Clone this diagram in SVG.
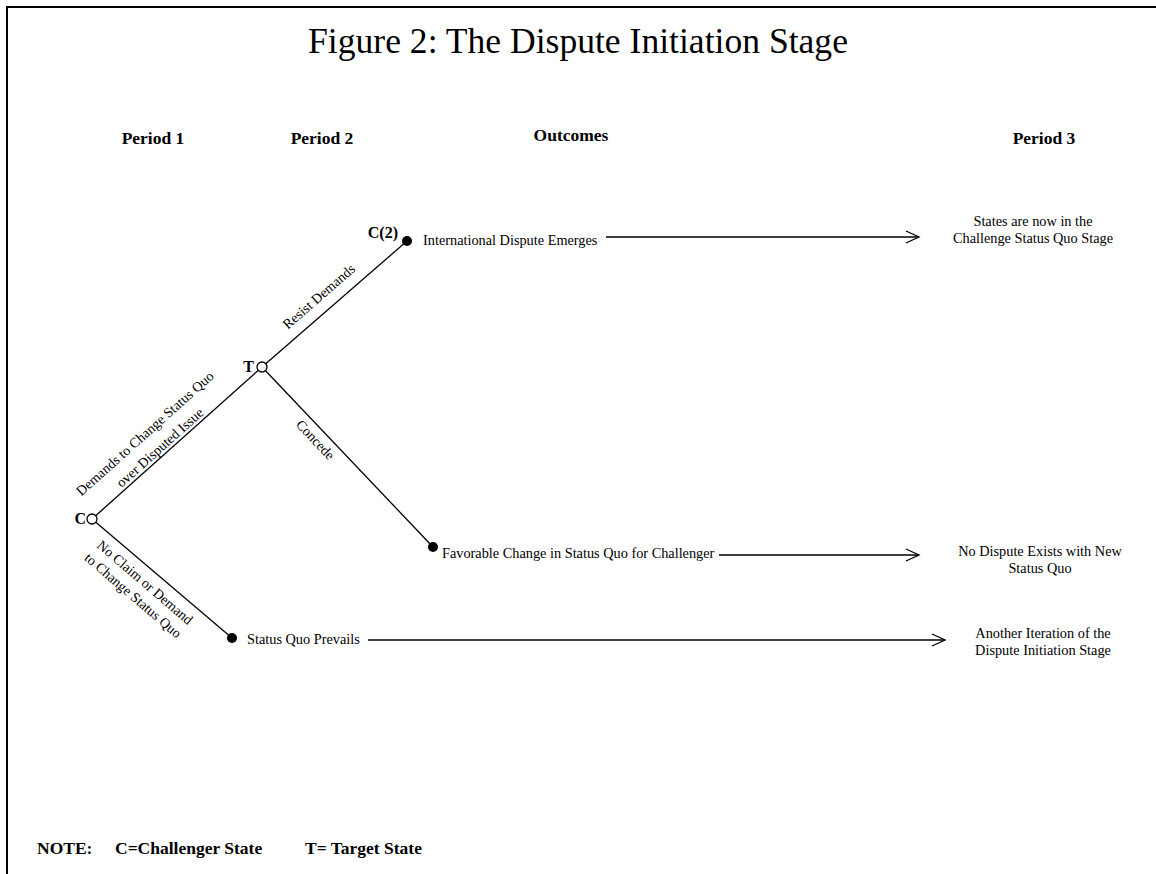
<svg xmlns="http://www.w3.org/2000/svg" width="1156" height="874" viewBox="0 0 1156 874">
<style>
text{font-family:"Liberation Serif","Times New Roman",serif;fill:#000}
.t{font-size:14.3px}
.r{font-size:14px}
.b{font-size:16px;font-weight:bold}
.h{font-size:17.5px;font-weight:bold}
.n{font-size:17.5px;font-weight:bold}
.mid{text-anchor:middle}
.edge{stroke:#000;stroke-width:1.3;fill:none}
.arr{stroke:#000;stroke-width:1.3;fill:none;marker-end:url(#open)}
.open{fill:#fff;stroke:#000;stroke-width:1.3}
.dot{fill:#000}
</style>
<defs>
<marker id="open" markerUnits="userSpaceOnUse" markerWidth="16" markerHeight="14" refX="14" refY="7" orient="auto">
<path d="M1,1 L14,7 L1,13" fill="none" stroke="#000" stroke-width="1.3"/>
</marker>
</defs>
<rect width="1156" height="874" fill="#fff"/>
<path d="M7,874 V7 H1156" fill="none" stroke="#000" stroke-width="2"/>
<text x="578" y="53" class="mid" style="font-size:35.6px">Figure 2: The Dispute Initiation Stage</text>
<text x="153" y="144" class="h mid">Period 1</text>
<text x="322" y="144" class="h mid">Period 2</text>
<text x="571" y="141" class="h mid">Outcomes</text>
<text x="1044" y="144" class="h mid">Period 3</text>
<g id="connectors">
<line class="edge" x1="92" y1="519" x2="262" y2="367"/>
<line class="edge" x1="262" y1="367" x2="407" y2="241"/>
<line class="edge" x1="262" y1="367" x2="433" y2="547"/>
<line class="edge" x1="92" y1="519" x2="232" y2="638"/>
<line class="arr" x1="606" y1="237" x2="919" y2="237"/>
<line class="arr" x1="719" y1="555" x2="919" y2="555"/>
<line class="arr" x1="368" y1="640" x2="945" y2="640"/>
<text class="r mid" transform="translate(148,437) rotate(-41.8)">Demands to Change Status Quo</text>
<text class="r mid" transform="translate(163,451) rotate(-41.8)">over Disputed Issue</text>
<text class="r mid" transform="translate(322,300) rotate(-41)">Resist Demands</text>
<text class="r mid" transform="translate(312,443) rotate(46.5)">Concede</text>
<text class="r mid" transform="translate(142,586) rotate(40.6)">No Claim or Demand</text>
<text class="r mid" transform="translate(130,599) rotate(40.6)">to Change Status Quo</text>
</g>
<g id="node-c">
<circle class="open" cx="92" cy="519" r="5"/>
<text x="86" y="524" class="b" text-anchor="end">C</text>
</g>
<g id="node-t">
<circle class="open" cx="262" cy="367" r="5"/>
<text x="254" y="372" class="b" text-anchor="end">T</text>
</g>
<g id="node-c2">
<circle class="dot" cx="407" cy="241" r="5"/>
<text x="398" y="238" class="b" text-anchor="end">C(2)</text>
<text x="423" y="245" class="t">International Dispute Emerges</text>
</g>
<g id="node-favorable">
<circle class="dot" cx="433" cy="547" r="5"/>
<text x="442" y="558" class="t">Favorable Change in Status Quo for Challenger</text>
</g>
<g id="node-sq">
<circle class="dot" cx="232" cy="638" r="5"/>
<text x="247" y="644" class="t">Status Quo Prevails</text>
</g>
<g id="out-challenge">
<text x="1033" y="226" class="t mid">States are now in the</text>
<text x="1033" y="243" class="t mid">Challenge Status Quo Stage</text>
</g>
<g id="out-nodispute">
<text x="1040" y="556" class="t mid">No Dispute Exists with New</text>
<text x="1040" y="573" class="t mid">Status Quo</text>
</g>
<g id="out-iteration">
<text x="1043" y="638" class="t mid">Another Iteration of the</text>
<text x="1043" y="655" class="t mid">Dispute Initiation Stage</text>
</g>
<g id="note">
<text x="37" y="854" class="n">NOTE:</text>
<text x="115" y="854" class="n">C=Challenger State</text>
<text x="305" y="854" class="n">T= Target State</text>
</g>
</svg>
